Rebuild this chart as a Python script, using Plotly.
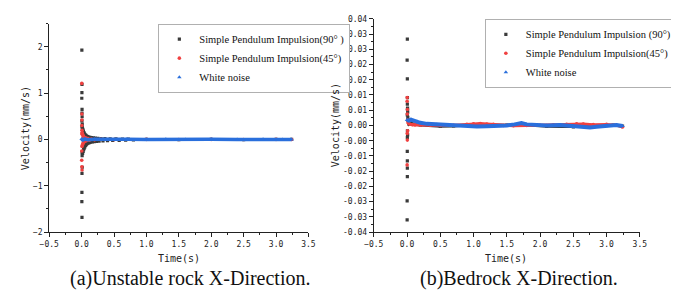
import plotly.graph_objects as go

# ---------------- Data ----------------
# (a) Unstable rock X-Direction
L90_spike_t = [0.004, 0.006, 0.005, 0.003, 0.007, 0.006, 0.008, 0.005, 0.010, 0.007, 0.008, 0.010, 0.006, 0.005, 0.004, 0.006, 0.007]
L90_spike_v = [1.93, 1.19, 1.01, 0.89, 0.65, 0.57, 0.49, 0.40, 0.33, -0.28, -0.35, -0.60, -0.73, -1.14, -1.34, -1.68, 0.27]
L90_band_t = [0.012, 0.016, 0.020, 0.024, 0.028, 0.032, 0.036, 0.040, 0.045, 0.050, 0.055, 0.060, 0.066, 0.072, 0.078, 0.085,
              0.092, 0.100, 0.110, 0.120, 0.130, 0.140, 0.150, 0.165, 0.180, 0.195, 0.210, 0.230, 0.250, 0.270, 0.300, 0.330,
              0.360, 0.400, 0.440, 0.480, 0.530, 0.580, 0.630, 0.680, 0.720, 0.800, 1.000, 1.500, 2.000, 2.500, 3.000, 3.240]
L90_band_v = [0.25, -0.30, 0.22, -0.26, 0.18, -0.22, 0.15, -0.19, 0.12, -0.16, 0.10, -0.13, 0.09, -0.11, 0.07, -0.09,
              0.06, -0.08, 0.05, -0.07, 0.045, -0.06, 0.04, -0.05, 0.035, -0.045, 0.03, -0.04, 0.025, -0.035, 0.02, -0.03,
              0.018, -0.025, 0.015, -0.02, 0.012, -0.018, 0.01, -0.015, 0.008, -0.01, 0.003, -0.002, 0.002, -0.002, 0.002, 0.0]

L45_spike_t = [0.003, 0.004, 0.005, 0.004, 0.006, 0.003, 0.002, 0.005, 0.007, 0.004, 0.006]
L45_spike_v = [1.21, 0.55, 0.42, 0.30, 0.20, -0.25, -0.45, -0.59, -0.66, 0.12, -0.15]
L45_band_t = [0.008, 0.012, 0.016, 0.020, 0.025, 0.030, 0.035, 0.040, 0.050, 0.060, 0.070, 0.080,
              0.100, 0.120, 0.150, 0.200, 0.300, 0.500, 1.000, 1.500, 2.000, 2.500, 3.000, 3.240]
L45_band_v = [0.15, -0.12, 0.11, -0.10, 0.08, -0.07, 0.06, -0.05, 0.04, -0.035, 0.03, -0.025,
              0.02, -0.015, 0.01, -0.008, 0.004, -0.003, 0.002, -0.001, 0.001, -0.001, 0.001, 0.0]

LWN_t = [0.0, 0.02, 0.05, 0.1, 0.2, 0.4, 0.7, 1.0, 1.3, 1.6, 2.0, 2.4, 2.8, 3.1, 3.24]
LWN_v = [0.01, -0.01, 0.008, -0.006, 0.004, -0.003, 0.002, -0.002, 0.002, -0.002, 0.002, -0.002, 0.002, -0.002, 0.0]

# (b) Bedrock X-Direction
R90_spike_t = [0.005, 0.002, 0.005, 0.006, 0.005, 0.007, 0.004, 0.006, 0.005, 0.004, 0.005, 0.005, 0.005, 0.002, 0.002,
               0.008, 0.010, 0.009, 0.012]
R90_spike_v = [0.0324, 0.0245, 0.0175, 0.0104, 0.008, 0.006, 0.004, -0.002, -0.0045, -0.0097, -0.0133, -0.016, -0.0192,
               -0.0283, -0.0354, 0.0065, 0.005, -0.0035, 0.003]
R90_band_t = [0.015, 0.03, 0.06, 0.1, 0.2, 0.35, 0.5, 0.7, 0.9, 1.1, 1.3, 1.5, 1.7, 1.9, 2.1, 2.3, 2.5, 2.7, 2.9, 3.1, 3.24]
R90_band_v = [0.002, 0.0005, 0.001, 0.0004, 0.0002, 0.0, -0.0003, -0.0002, 0.0002, 0.0003, 0.0002, 0.0001, 0.0004, 0.0,
              -0.0003, -0.0004, -0.0005, -0.0004, -0.0002, 0.0001, -0.0002]

R45_spike_t = [0.002, 0.003, 0.004, 0.006, 0.003, 0.005, 0.002, 0.008, 0.010]
R45_spike_v = [0.0091, 0.0105, 0.0043, 0.006, -0.003, -0.0055, -0.0148, 0.002, -0.002]
R45_band_t = [0.015, 0.04, 0.08, 0.12, 0.2, 0.35, 0.5, 0.7, 0.9, 1.0, 1.1, 1.2, 1.3, 1.45, 1.6, 1.8, 2.0, 2.2, 2.4, 2.55,
              2.65, 2.8, 3.0, 3.15, 3.24]
R45_band_v = [0.001, 0.0005, 0.0003, 0.0002, 0.0002, 0.0001, 0.0, 0.0001, 0.0004, 0.0006, 0.0007, 0.0005, 0.0004, 0.0,
              -0.0001, 0.0, 0.0001, 0.0002, 0.0004, 0.0006, 0.0005, 0.0003, 0.0004, 0.0001, -0.0006]

RWN_t = [0.0, 0.03, 0.06, 0.1, 0.15, 0.2, 0.3, 0.45, 0.6, 0.8, 0.95, 1.05, 1.2, 1.35, 1.5, 1.62, 1.72, 1.8, 1.95, 2.1,
         2.3, 2.5, 2.65, 2.75, 2.85, 3.0, 3.15, 3.24]
RWN_v = [0.002, 0.0018, 0.0022, 0.0018, 0.0015, 0.001, 0.0006, 0.0004, 0.0002, -0.0001, -0.0006, -0.0004, -0.0003,
         -0.0002, 0.0, 0.0004, 0.0009, 0.0004, 0.0001, 0.0, 0.0002, -0.0002, -0.0005, -0.0008, -0.0005, 0.0, 0.0002, -0.0002]

names_left = ["Simple Pendulum Impulsion(90° )", "Simple Pendulum Impulsion(45°)", "White noise"]
names_right = ["Simple Pendulum Impulsion (90°)", "Simple Pendulum Impulsion(45°)", "White noise"]

x_ticks = [-0.5, 0.0, 0.5, 1.0, 1.5, 2.0, 2.5, 3.0, 3.5]
L_yticks = [-2, -1, 0, 1, 2]
R_ytick_text = ["-0.04", "-0.03", "-0.03", "-0.02", "-0.02", "-0.01", "-0.00", "0.00",
                "0.01", "0.01", "0.02", "0.02", "0.03", "0.03", "0.04"]
R_ytick_vals = [-0.04 + i * 0.08 / 14 for i in range(len(R_ytick_text))]

# ---------------- Styles ----------------
C_BLACK = "#3a3a3a"
C_RED = "#f04040"
C_BLUE = "#2a6fdc"
MONO = "DejaVu Sans Mono"
SERIF = "Liberation Serif"

# page has an 8px body margin: figure is shrunk and positions are given in window pixels
OFF = 8
W, H = 679 - OFF, 305 - OFF


def px(x):
    return (x - OFF) / W


def py(y):
    return 1 - (y - OFF) / H


fig = go.Figure()


def add_series(xa, ya, leg, name, color, symbol, st, sv, bt, bv, lw, msize):
    # dense samples drawn as a thick line band
    if bt:
        fig.add_trace(go.Scatter(x=bt, y=bv, mode="lines", line=dict(color=color, width=lw),
                                 showlegend=False, xaxis=xa, yaxis=ya, hoverinfo="skip"))
    fig.add_trace(go.Scatter(x=st + bt, y=sv + bv, mode="markers", name=name, legend=leg,
                             marker=dict(color=color, symbol=symbol, size=msize, line=dict(width=0)),
                             xaxis=xa, yaxis=ya))


# left panel
add_series("x", "y", "legend", names_left[0], C_BLACK, "square", L90_spike_t, L90_spike_v, L90_band_t, L90_band_v, 1.2, 3.2)
add_series("x", "y", "legend", names_left[1], C_RED, "circle", L45_spike_t, L45_spike_v, L45_band_t, L45_band_v, 1.2, 3.6)
add_series("x", "y", "legend", names_left[2], C_BLUE, "triangle-up", [], [], LWN_t, LWN_v, 3.5, 4)
# right panel
add_series("x2", "y2", "legend2", names_right[0], C_BLACK, "square", R90_spike_t, R90_spike_v, R90_band_t, R90_band_v, 3, 3.2)
add_series("x2", "y2", "legend2", names_right[1], C_RED, "circle", R45_spike_t, R45_spike_v, R45_band_t, R45_band_v, 3, 3.6)
add_series("x2", "y2", "legend2", names_right[2], C_BLUE, "triangle-up", [], [], RWN_t, RWN_v, 4, 4)

axis_common = dict(showline=True, linecolor="#222", linewidth=1, ticks="outside", ticklen=4, tickwidth=1,
                   tickcolor="#222", showgrid=False, zeroline=False,
                   tickfont=dict(family=MONO, size=8, color="#222"))

legend_common = dict(xanchor="left", yanchor="top", bgcolor="white", bordercolor="#b0b0b0", borderwidth=1,
                     font=dict(family=SERIF, size=10.5, color="#111"), itemsizing="trace", tracegroupgap=0,
                     itemwidth=30)

fig.update_layout(
    width=W, height=H, margin=dict(l=0, r=0, t=0, b=0),
    paper_bgcolor="white", plot_bgcolor="white",
    xaxis=dict(domain=[px(40), px(306)], range=[-0.5, 3.5], tickvals=x_ticks, tickformat=".1f",
               minor=dict(dtick=0.25, tick0=-0.5, ticks="outside", ticklen=2, tickcolor="#222"),
               anchor="y", **axis_common),
    yaxis=dict(domain=[py(235), py(20)], range=[-2, 2.5], tickvals=L_yticks,
               minor=dict(dtick=0.5, tick0=-2, ticks="outside", ticklen=2, tickcolor="#222"),
               anchor="x", **axis_common),
    xaxis2=dict(domain=[px(373), px(646)], range=[-0.5, 3.5], tickvals=x_ticks, tickformat=".1f",
                minor=dict(dtick=0.25, tick0=-0.5, ticks="outside", ticklen=2, tickcolor="#222"),
                anchor="y2", **axis_common),
    yaxis2=dict(domain=[py(235), py(15)], range=[-0.04, 0.04], tickvals=R_ytick_vals, ticktext=R_ytick_text,
                minor=dict(dtick=0.04 / 14, tick0=-0.04, ticks="outside", ticklen=2, tickcolor="#222"),
                anchor="x2", **axis_common),
    legend=dict(x=px(152), y=py(20), **legend_common),
    legend2=dict(x=px(487), y=py(15), **legend_common),
)

ann = [
    dict(text="Time(s)", x=px(173), y=py(262), font=dict(family=MONO, size=10, color="#222")),
    dict(text="Time(s)", x=px(509), y=py(262), font=dict(family=MONO, size=10, color="#222")),
    dict(text="Velocity(mm/s)", x=px(16), y=py(128), textangle=-90, font=dict(family=MONO, size=10, color="#222")),
    dict(text="Velocity(mm/s)", x=px(334), y=py(125), textangle=-90, font=dict(family=MONO, size=10, color="#222")),
    dict(text="(a)Unstable rock X-Direction.", x=px(184), y=py(283), font=dict(family=SERIF, size=20, color="#111")),
    dict(text="(b)Bedrock X-Direction.", x=px(522), y=py(283), font=dict(family=SERIF, size=20, color="#111")),
]
for a in ann:
    fig.add_annotation(xref="paper", yref="paper", showarrow=False, xanchor="center", yanchor="middle", **a)

fig.write_html("out.html")
